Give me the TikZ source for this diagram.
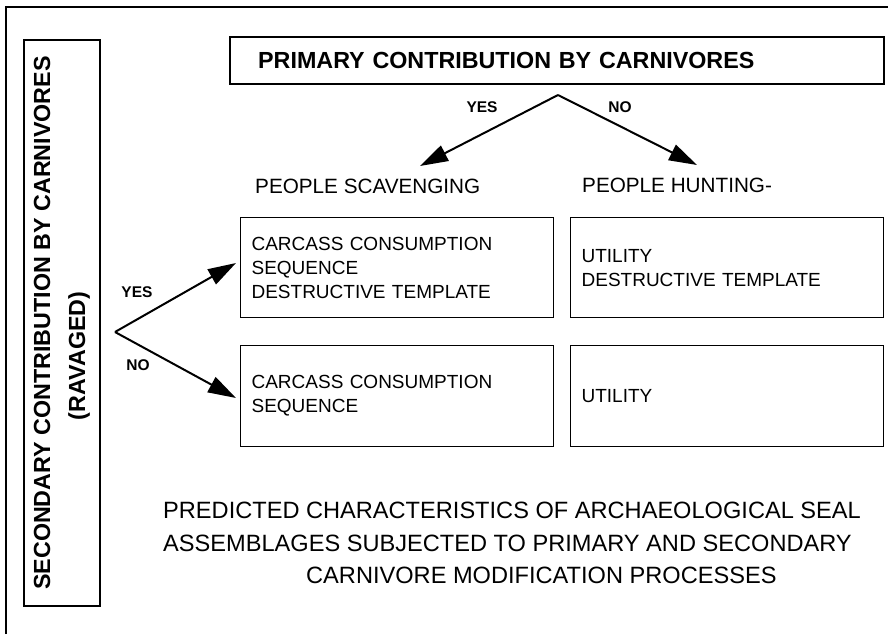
\documentclass[tikz,border=0pt]{standalone}
\usepackage{fontspec}
\setmainfont{Liberation Sans}
\usetikzlibrary{arrows.meta}
\begin{document}
\begin{tikzpicture}[x=1pt,y=-1pt,
  frameline/.style={line width=1.4pt},
  heavybox/.style={draw,line width=2.4pt},
  cellbox/.style={draw,line width=1.2pt,minimum width=313pt,minimum height=100pt,anchor=north west,
    inner xsep=11pt,inner ysep=0pt,text width=291pt,align=left,font=\fontsize{19}{24}\selectfont},
  fork/.style={line width=2pt,-{Triangle[length=28pt,width=17pt]}},
  forklabel/.style={font=\bfseries\fontsize{15.5}{16}\selectfont,inner sep=0pt},
  heading/.style={font=\fontsize{20.7}{24}\selectfont,anchor=base west,inner sep=0pt},
  capline/.style={font=\fontsize{23.6}{28}\selectfont,anchor=base west,inner sep=0pt}]
\useasboundingbox (0,0) rectangle (888,634);
% outer frame (left and top edges only)
\coordinate (fA) at (6,634);
\coordinate (fB) at (6,7);
\coordinate (fC) at (888,7);
\draw[frameline] (fA) -- (fB) -- (fC);
% top title box
\node[heavybox,anchor=north west,minimum height=47pt,inner xsep=28pt,inner ysep=0pt,text width=598pt,align=left,
  font=\bfseries\fontsize{23.3}{26}\selectfont] (primary) at (229,36) {PRIMARY CONTRIBUTION BY CARNIVORES};
% left vertical box
\node[heavybox,rotate=90,minimum width=566pt,minimum height=76pt,inner sep=0pt,align=center,
  font=\bfseries\fontsize{23.3}{35}\selectfont] (secondary) at (62,323)
  {SECONDARY CONTRIBUTION BY CARNIVORES\\\hspace*{-66pt}(RAVAGED)};
% top fork
\coordinate (tapex) at (558,95);
\coordinate (ttipL) at (420,166);
\coordinate (ttipR) at (697,165);
\draw[fork] (tapex) -- (ttipL);
\draw[fork] (tapex) -- (ttipR);
\node[forklabel] (tyes) at (482,107) {YES};
\node[forklabel] (tno) at (620,107) {NO};
% column headings
\node[heading] (scav) at (255,193) {PEOPLE SCAVENGING};
\node[heading] (hunt) at (582,192) {PEOPLE HUNTING-};
% cells
\node[cellbox] (c11) at (240,217) {CARCASS CONSUMPTION\\SEQUENCE\\DESTRUCTIVE TEMPLATE};
\node[cellbox] (c12) at (570,217) {UTILITY\\DESTRUCTIVE TEMPLATE};
\node[cellbox,minimum height=101pt] (c21) at (240,345) {CARCASS CONSUMPTION\\SEQUENCE};
\node[cellbox,minimum height=101pt] (c22) at (570,345) {UTILITY};
% left fork
\coordinate (lapex) at (115,332);
\coordinate (ltipY) at (236,263);
\coordinate (ltipN) at (236,398);
\draw[fork] (lapex) -- (ltipY);
\draw[fork] (lapex) -- (ltipN);
\node[forklabel] (lyes) at (137,292) {YES};
\node[forklabel] (lno) at (138,365) {NO};
% caption
\node[capline] (cap1) at (163,518) {PREDICTED CHARACTERISTICS OF ARCHAEOLOGICAL SEAL};
\node[capline] (cap2) at (163,551) {ASSEMBLAGES SUBJECTED TO PRIMARY AND SECONDARY};
\node[capline] (cap3) at (306,583) {CARNIVORE MODIFICATION PROCESSES};
\end{tikzpicture}
\end{document}
